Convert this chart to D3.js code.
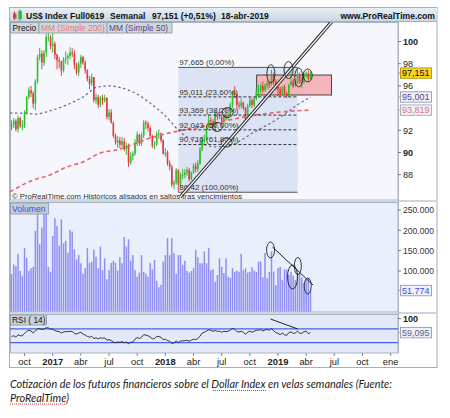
<!DOCTYPE html>
<html lang="es">
<head>
<meta charset="utf-8">
<title>US$ Index Full0619 semanal</title>
<script src="https://cdn.jsdelivr.net/npm/d3@7"></script>
<style>
  body { margin: 0; background: #fff; }
  svg { display: block; font-family: "Liberation Sans", Arial, sans-serif; }
</style>
</head>
<body>
<svg id="chart" width="450" height="418"></svg>
<script>
// weekly candles, dollar index future (jun 2019), back adjusted
const startWeek = "2016-08-26";
const firstOpen = 92.3;

const closes = [
  92.5, 92.85, 92.1, 93.1, 92.4, 92.4, 93.55, 95.0, 95.6, 95.35,
  94.4, 96.4, 98.6, 98.9, 98.1, 99.0, 100.4, 100.4, 99.6,
  99.8, 98.8, 98.3, 98.2, 97.4, 98.4, 98.5, 98.7, 99.0, 98.9,
  97.9, 97.2, 98.0, 98.6, 98.1, 97.4, 96.6, 96.2, 96.8, 94.7,
  95.0, 94.3, 94.9, 94.7, 94.9, 93.2, 93.6, 92.7, 91.5, 90.9,
  91.1, 90.7, 91.0, 90.3, 90.6, 89.1, 89.7, 89.9, 90.9, 91.6,
  90.8, 91.5, 92.7, 92.6, 92.2, 91.5, 90.6, 90.7, 91.7, 91.7,
  91.1, 89.9, 90.0, 89.0, 88.7, 87.1, 87.3, 88.4, 87.1, 88.0,
  88.0, 88.2, 88.4, 87.6, 88.2, 88.8, 88.5, 89.0, 90.3, 91.2,
  91.2, 92.3, 92.9, 92.8, 92.3, 93.5, 93.2, 93.2, 92.7, 93.3,
  93.1, 93.4, 94.3, 95.4, 95.2, 94.3, 94.2, 94.5, 94.0, 93.0,
  94.2, 94.7, 94.3, 94.8, 95.5, 95.6, 96.0, 95.6, 96.0, 96.3,
  96.1, 97.0, 96.4, 95.9, 95.7, 95.2, 95.9, 95.3, 95.1, 96.1,
  96.4, 96.0, 96.25, 97.05, 96.35, 96.35, 97.05, 97.15, 96.66, 97.151
];
const highs = [
  92.9, 93.1, 93.0, 93.3, 93.2, 92.9, 93.8, 95.1, 95.9, 96.0,
  95.5, 96.6, 98.8, 99.4, 99.2, 99.2, 100.7, 100.8, 100.6,
  101.3, 100.0, 98.9, 98.6, 98.3, 98.6, 99.1, 98.9, 99.5, 99.4,
  99.2, 98.1, 98.2, 98.8, 98.7, 98.3, 97.5, 96.9, 97.1, 96.8,
  95.3, 95.2, 95.1, 95.2, 95.2, 95.0, 93.9, 93.9, 92.8, 91.7,
  91.5, 91.4, 91.4, 91.3, 90.9, 90.8, 90.0, 90.1, 91.2, 91.9,
  91.7, 91.8, 92.9, 92.9, 92.8, 92.4, 91.6, 91.0, 91.9, 92.1,
  91.8, 91.2, 90.4, 90.2, 89.3, 88.9, 87.5, 88.6, 88.5, 88.2,
  88.5, 88.5, 88.7, 88.6, 88.3, 89.0, 89.1, 89.3, 90.5, 91.4,
  91.6, 92.5, 93.4, 93.2, 93.0, 93.8, 93.6, 94.0, 93.4, 93.5,
  94.0, 93.6, 94.5, 95.5, 95.95, 95.3, 94.6, 94.9, 94.6, 94.1,
  94.4, 95.0, 94.9, 95.0, 95.8, 96.1, 96.2, 96.4, 96.2, 96.5,
  96.4, 97.45, 97.2, 96.6, 96.3, 95.9, 96.0, 96.1, 95.5, 96.2,
  97.3, 96.6, 96.6, 97.665, 97.2, 96.8, 97.2, 97.3, 97.4, 97.3
];
const lows = [
  92.0, 92.2, 91.9, 91.8, 92.2, 92.0, 92.2, 93.4, 94.8, 95.0,
  94.0, 93.8, 96.2, 98.3, 97.5, 97.8, 98.6, 100.0, 99.3,
  99.0, 98.4, 97.5, 97.6, 96.9, 97.2, 98.0, 97.9, 98.4, 98.6,
  97.5, 97.0, 96.9, 97.6, 97.9, 97.1, 96.4, 95.7, 96.0, 94.5,
  94.4, 94.0, 94.1, 94.3, 94.5, 93.0, 92.9, 92.6, 91.3, 90.7,
  90.4, 90.4, 90.5, 90.1, 89.8, 88.7, 88.9, 89.3, 89.7, 90.6,
  90.6, 90.6, 91.3, 92.1, 91.9, 91.3, 90.4, 90.3, 90.6, 91.2,
  90.9, 89.8, 89.6, 88.8, 88.4, 86.9, 86.7, 87.1, 86.42, 86.9,
  87.6, 87.7, 87.9, 87.4, 87.5, 88.1, 88.2, 88.3, 88.9, 90.1,
  90.8, 91.0, 92.2, 92.2, 92.0, 91.9, 92.9, 93.0, 92.6, 92.6,
  92.9, 92.9, 93.3, 94.0, 94.9, 94.0, 93.9, 94.0, 93.8, 92.9,
  92.8, 94.1, 94.0, 94.1, 94.7, 95.0, 95.3, 95.4, 95.5, 95.7,
  95.8, 96.0, 96.1, 95.6, 95.1, 95.0, 95.1, 95.2, 94.9, 95.0,
  96.0, 95.8, 95.9, 96.2, 96.2, 95.8, 96.2, 96.8, 96.4, 96.6
];
// contracts per week, in thousands
const volumesK = [
  92, 116, 112, 142, 100, 88, 157, 132, 101, 107,
  110, 199, 240, 166, 207, 243, 244, 110, 98, 186,
  230, 211, 162, 227, 168, 174, 145, 201, 197, 153,
  129, 139, 119, 93, 107, 156, 120, 123, 153, 135,
  107, 160, 102, 131, 80, 102, 120, 125, 120, 101,
  134, 119, 184, 160, 178, 125, 139, 102, 86, 96,
  139, 98, 93, 86, 120, 104, 127, 76, 60, 66,
  123, 139, 181, 139, 181, 144, 93, 139, 139, 115,
  125, 100, 96, 100, 107, 152, 134, 119, 119, 148,
  119, 156, 102, 104, 74, 90, 131, 110, 95,
  131, 86, 83, 107, 98, 101, 98, 142, 102, 107,
  96, 98, 109, 101, 98, 123, 123, 84, 144, 82,
  98, 148, 98, 65, 107, 110, 78, 104, 104, 90,
  98, 88, 78, 94, 93, 84, 70, 78, 82, 51.774
];
const rsiValues = [
  48, 50, 46, 53, 50, 50, 57, 63, 66, 64, 58, 64, 70, 71, 68, 70, 73, 73, 69, 69,
  65, 63, 62, 58, 61, 62, 62, 63, 62, 57, 55, 58, 60, 55, 52, 48, 46, 48, 42, 44,
  41, 44, 43, 44, 37, 39, 36, 32, 30, 32, 31, 33, 30, 32, 27, 31, 32, 40, 45, 42,
  46, 53, 52, 50, 46, 41, 42, 48, 48, 45, 39, 40, 36, 34, 28, 29, 35, 30, 35, 35,
  36, 37, 34, 37, 40, 39, 42, 49, 58, 60, 64, 67, 66, 63, 65, 63, 63, 60, 63, 62,
  63, 67, 71, 69, 62, 61, 63, 60, 54, 61, 63, 60, 63, 66, 66, 68, 64, 67, 68, 66,
  71, 64, 59, 57, 53, 58, 53, 51, 59, 61, 57, 58, 64, 57, 57, 62, 63, 56, 59.095
];

// moving averages
const sma50Pts = [
  ["2016-08-21", 93.55], ["2016-10-10", 93.55], ["2016-11-10", 93.45], ["2016-12-28", 93.75],
  ["2017-02-21", 94.3], ["2017-04-14", 95.0], ["2017-05-30", 95.9], ["2017-07-11", 96.0],
  ["2017-08-12", 95.85], ["2017-09-30", 95.35], ["2017-11-17", 94.45], ["2018-01-05", 93.3],
  ["2018-02-22", 91.85], ["2018-04-28", 90.85], ["2018-06-16", 90.5], ["2018-07-28", 90.6],
  ["2018-10-17", 91.8], ["2019-01-12", 93.2], ["2019-03-08", 94.3], ["2019-04-19", 95.001]
];
const sma200Pts = [
  ["2016-08-21", 86.45], ["2016-11-03", 87.5], ["2016-12-28", 87.97], ["2017-02-21", 88.7],
  ["2017-04-14", 89.15], ["2017-06-08", 89.95], ["2017-08-02", 90.25], ["2017-11-17", 91.3],
  ["2018-01-31", 91.85], ["2018-04-28", 92.3], ["2018-07-02", 92.75], ["2018-10-17", 93.35],
  ["2019-01-12", 93.65], ["2019-04-19", 93.819]
];

const fibPcts = [0, 23.6, 38.2, 50, 61.8, 100];
const fibValues = [97.665, 95.011, 93.369, 92.043, 90.716, 86.42];
const fibFromWeek = 77, fibToWeek = 132; // low bar and high bar

const xTickLabels = [
  ["2016-10-07", "oct"], ["2017-01-06", "2017"], ["2017-04-07", "abr"], ["2017-07-07", "jul"],
  ["2017-10-06", "oct"], ["2018-01-05", "2018"], ["2018-04-06", "abr"], ["2018-07-06", "jul"],
  ["2018-10-05", "oct"], ["2019-01-04", "2019"], ["2019-04-05", "abr"], ["2019-07-05", "jul"],
  ["2019-10-04", "oct"], ["2020-01-03", "ene"]
];
const priceTicks = [88, 90, 92, 96, 98, 100];
const volumeTicks = [100000, 150000, 200000, 250000];
const rsiTicks = [100];
const rsiBands = [30, 70];

// hand drawn objects (date, value)
const zoneDates = ["2018-10-27", "2019-06-26"];
const zoneValues = [96.98, 95.18];
const trendPts = [["2018-02-22", 85.99], ["2019-06-26", 101.76]];
const priceRings = [["2018-12-12", 97.1], ["2019-02-07", 97.43], ["2019-03-12", 96.76], ["2019-04-10", 96.94],
  ["2018-07-25", 93.6], ["2018-06-22", 92.3], ["2018-07-22", 90.9]];
const volRings = [["2018-12-11", 151700], ["2019-03-09", 112300], ["2019-02-20", 85200], ["2019-04-10", 63000]];
const volTrend = [["2018-12-17", 159000], ["2019-04-27", 65600]];
const rsiTrend = [["2018-12-11", 98.5], ["2019-03-09", 69.6]];

// ------------------------------------------------------------------
const parse = d3.timeParse("%Y-%m-%d");
const svg = d3.select("#chart");
const left = 10, right = 398, outerRight = 437;
const pricePane = {top: 22, bottom: 200};
const volPane = {top: 202, bottom: 312};
const rsiPane = {top: 314, bottom: 353};

const x = d3.scaleTime().domain([parse("2017-01-06"), parse("2019-01-04")]).range([52.7, 278]);
const yPrice = d3.scaleLinear().domain([88, 100]).range([174.7, 41.5]);
const yVol = d3.scaleLinear().domain([0, 250000]).range([311.6, 210]);
const yRsi = d3.scaleLinear().domain([0, 100]).range([353, 318.5]);

const es = d3.formatLocale({decimal: ",", thousands: ".", grouping: [3], currency: ["", " €"]});
const fmt3 = es.format(".3f");
const fmtVol = es.format(",d");

const bars = closes.map(function(c, i) {
  return {
    date: d3.timeDay.offset(parse(startWeek), 7 * i),
    open: i ? closes[i - 1] : firstOpen,
    close: c, high: highs[i], low: lows[i],
    volume: volumesK[i] * 1000, rsi: rsiValues[i]
  };
});
const last = bars[bars.length - 1];

const defs = svg.append("defs");
const grad = defs.append("linearGradient").attr("id", "titleGrad")
  .attr("x1", 0).attr("y1", 0).attr("x2", 0).attr("y2", 1);
grad.append("stop").attr("offset", "0%").attr("stop-color", "#e8eff6");
grad.append("stop").attr("offset", "100%").attr("stop-color", "#c6d5e3");
[["clipPrice", pricePane], ["clipVol", volPane], ["clipRsi", rsiPane]].forEach(function(c) {
  defs.append("clipPath").attr("id", c[0]).append("rect")
    .attr("x", left).attr("y", c[1].top).attr("width", right - left).attr("height", c[1].bottom - c[1].top);
});

// frame + title bar
svg.append("rect").attr("x", 9.5).attr("y", 7.5).attr("width", outerRight - 9.5).attr("height", 360)
  .attr("fill", "#fff").attr("stroke", "#9fb1c3");
svg.append("rect").attr("x", 10).attr("y", 8).attr("width", outerRight - 10).attr("height", 14)
  .attr("fill", "url(#titleGrad)");
svg.append("line").attr("x1", 10).attr("x2", outerRight).attr("y1", 21.5).attr("y2", 21.5).attr("stroke", "#9fb1c3");

var icon = svg.append("g");
icon.append("line").attr("x1", 14.5).attr("x2", 14.5).attr("y1", 11.5).attr("y2", 20).attr("stroke", "#c83030");
icon.append("rect").attr("x", 13).attr("y", 13.5).attr("width", 3.5).attr("height", 5).attr("fill", "#e04040");
icon.append("line").attr("x1", 20).attr("x2", 20).attr("y1", 9.5).attr("y2", 20.5).attr("stroke", "#229922");
icon.append("rect").attr("x", 18.3).attr("y", 11).attr("width", 3.5).attr("height", 8).attr("fill", "#33bb33");

var pct = (last.close / last.open - 1) * 100;
var titleParts = [
  [26, "US$ Index Full0619", "start"],
  [110, "Semanal", "start"],
  [152, fmt3(last.close) + " (" + (pct >= 0 ? "+" : "") + es.format(".2f")(pct) + "%)", "start"],
  [221, "18-abr-2019", "start"],
  [435, "www.ProRealTime.com", "end"]
];
svg.append("g").selectAll("text").data(titleParts).enter().append("text")
  .attr("x", function(d) { return d[0]; }).attr("y", 18.6)
  .attr("text-anchor", function(d) { return d[2]; })
  .attr("font-size", 8.6).attr("font-weight", "bold").attr("fill", "#111")
  .text(function(d) { return d[1]; });

// panel backgrounds
function pane(p, fill) {
  svg.append("rect").attr("x", left + 0.5).attr("y", p.top + 0.5)
    .attr("width", right - left - 0.5).attr("height", p.bottom - p.top - 0.5)
    .attr("fill", fill).attr("stroke", "#a9b4c0");
}
pane(pricePane, "#f5f7fd");
svg.append("rect").attr("x", left).attr("y", 200).attr("width", outerRight - left).attr("height", 2).attr("fill", "#cdd5de");
pane(volPane, "#eaf0fb");
svg.append("rect").attr("x", left).attr("y", 312).attr("width", outerRight - left).attr("height", 2).attr("fill", "#cdd5de");
pane(rsiPane, "#e2e9f9");
svg.append("line").attr("x1", right + 0.5).attr("x2", right + 0.5).attr("y1", 22).attr("y2", 353).attr("stroke", "#a9b4c0");

// ---------------- price panel
var gp = svg.append("g").attr("clip-path", "url(#clipPrice)");
var fibX0 = x(bars[fibFromWeek].date), fibX1 = x(bars[fibToWeek].date);

gp.append("rect").attr("x", fibX0).attr("width", fibX1 - fibX0)
  .attr("y", yPrice(fibValues[0])).attr("height", yPrice(fibValues[5]) - yPrice(fibValues[0]))
  .attr("fill", "#dbe3f5");

gp.append("rect")
  .attr("x", x(parse(zoneDates[0]))).attr("width", x(parse(zoneDates[1])) - x(parse(zoneDates[0])))
  .attr("y", yPrice(zoneValues[0])).attr("height", yPrice(zoneValues[1]) - yPrice(zoneValues[0]))
  .attr("fill", "#f5b5bb").attr("stroke", "#333").attr("stroke-width", 0.9);

var candle = gp.append("g").selectAll("g").data(bars).enter().append("g")
  .attr("stroke", function(d) { return d.close >= d.open ? "#23b023" : "#d93434"; })
  .attr("fill", function(d) { return d.close >= d.open ? "#2cc22c" : "#e03c3c"; });
candle.append("line")
  .attr("x1", function(d) { return x(d.date); }).attr("x2", function(d) { return x(d.date); })
  .attr("y1", function(d) { return yPrice(d.high); }).attr("y2", function(d) { return yPrice(d.low); })
  .attr("stroke-width", 0.9);
candle.append("rect")
  .attr("x", function(d) { return x(d.date) - 0.8; }).attr("width", 1.6)
  .attr("y", function(d) { return yPrice(Math.max(d.open, d.close)); })
  .attr("height", function(d) { return Math.max(1, Math.abs(yPrice(d.open) - yPrice(d.close))); })
  .attr("stroke", "none");

var maLine = d3.line().curve(d3.curveMonotoneX)
  .x(function(d) { return x(parse(d[0])); }).y(function(d) { return yPrice(d[1]); });
gp.append("path").datum(sma200Pts).attr("d", maLine).attr("fill", "none")
  .attr("stroke", "#e56468").attr("stroke-width", 1.6).attr("stroke-dasharray", "4,3");
gp.append("path").datum(sma50Pts).attr("d", maLine).attr("fill", "none")
  .attr("stroke", "#7a6590").attr("stroke-width", 1.2).attr("stroke-dasharray", "2.5,2.5");

// fibonacci
fibValues.forEach(function(v, i) {
  var solid = i === 0 || i === fibValues.length - 1;
  gp.append("line").attr("x1", fibX0).attr("x2", fibX1)
    .attr("y1", yPrice(v)).attr("y2", yPrice(v))
    .attr("stroke", solid ? "#555" : "#222").attr("stroke-width", solid ? 1 : 0.9)
    .attr("stroke-dasharray", solid ? null : "3,2");
  gp.append("text").attr("x", fibX0 + 1).attr("y", yPrice(v) - 2.2)
    .attr("font-size", 8).attr("fill", "#333")
    .text(String(v).replace(".", ",") + " (" + es.format(".2f")(fibPcts[i]) + "%)");
});

// trend line (double)
var tx0 = x(parse(trendPts[0][0])), ty0 = yPrice(trendPts[0][1]);
var tx1 = x(parse(trendPts[1][0])), ty1 = yPrice(trendPts[1][1]);
gp.append("line").attr("x1", tx0).attr("y1", ty0).attr("x2", tx1).attr("y2", ty1)
  .attr("stroke", "#222").attr("stroke-width", 3.4);
gp.append("line").attr("x1", tx0).attr("y1", ty0).attr("x2", tx1).attr("y2", ty1)
  .attr("stroke", "#f5f7fd").attr("stroke-width", 1.3);

var ringSize = [[4, 9], [4.5, 8.5], [4, 9.5], [4.5, 6.5], [5.5, 5], [5, 4.5], [5.5, 4.5]];
gp.append("g").selectAll("ellipse").data(priceRings).enter().append("ellipse")
  .attr("cx", function(d) { return x(parse(d[0])); }).attr("cy", function(d) { return yPrice(d[1]); })
  .attr("rx", function(d, i) { return ringSize[i][0]; }).attr("ry", function(d, i) { return ringSize[i][1]; })
  .attr("fill", "none").attr("stroke", "#222").attr("stroke-width", 0.9);

svg.append("text").attr("x", 12).attr("y", 198.8).attr("font-size", 8).attr("fill", "#333")
  .attr("textLength", 230).attr("lengthAdjust", "spacingAndGlyphs")
  .text("© ProRealTime.com  Históricos alisados en saltos tras vencimientos");

// legend tabs
var tabs = [["Precio", 10.5, 39, "#111"], ["MM (Simple 200)", 39, 107, "#e87476"], ["MM (Simple 50)", 107, 172, "#5a4678"]];
tabs.forEach(function(t) {
  svg.append("rect").attr("x", t[1]).attr("y", 22.5).attr("width", t[2] - t[1]).attr("height", 10.5)
    .attr("fill", "#cfd7df").attr("stroke", "#97a4b0");
  svg.append("text").attr("x", t[1] + 2).attr("y", 31).attr("font-size", 8.4).attr("fill", t[3]).text(t[0]);
});

// price axis
var pa = svg.append("g");
pa.selectAll("line").data(priceTicks).enter().append("line")
  .attr("x1", right).attr("x2", right + 3).attr("y1", function(d) { return yPrice(d); }).attr("y2", function(d) { return yPrice(d); })
  .attr("stroke", "#777");
pa.selectAll("text").data(priceTicks).enter().append("text")
  .attr("x", right + 5).attr("y", function(d) { return yPrice(d) + 3.3; })
  .attr("font-size", 9).attr("fill", "#222")
  .attr("font-weight", function(d) { return d % 10 === 0 ? "bold" : null; })
  .text(function(d) { return d; });

function valueBox(yc, label, fill, stroke, color) {
  svg.append("line").attr("x1", right).attr("x2", right + 3).attr("y1", yc).attr("y2", yc).attr("stroke", stroke);
  svg.append("rect").attr("x", right + 2.5).attr("y", yc - 5.2).attr("width", 31).attr("height", 10.4)
    .attr("fill", fill).attr("stroke", stroke);
  svg.append("text").attr("x", right + 4).attr("y", yc + 3.3).attr("font-size", 9).attr("fill", color).text(label);
}
valueBox(yPrice(sma50Pts[sma50Pts.length - 1][1]), fmt3(sma50Pts[sma50Pts.length - 1][1]), "#eff2fa", "#9aa4b8", "#5a3f7e");
valueBox(yPrice(sma200Pts[sma200Pts.length - 1][1]), fmt3(sma200Pts[sma200Pts.length - 1][1]), "#eff2fa", "#a8b0c2", "#e2707c");
valueBox(yPrice(last.close), fmt3(last.close), "#f7d41e", "#b59d1c", "#111");

// ---------------- volume panel
svg.append("g").attr("clip-path", "url(#clipVol)").selectAll("rect").data(bars).enter().append("rect")
  .attr("x", function(d) { return x(d.date) - 0.75; }).attr("width", 1.5)
  .attr("y", function(d) { return yVol(d.volume); })
  .attr("height", function(d) { return yVol(0) - yVol(d.volume); })
  .attr("fill", "#8e8ef3");

var gv = svg.append("g").attr("clip-path", "url(#clipVol)");
gv.append("line")
  .attr("x1", x(parse(volTrend[0][0]))).attr("y1", yVol(volTrend[0][1]))
  .attr("x2", x(parse(volTrend[1][0]))).attr("y2", yVol(volTrend[1][1]))
  .attr("stroke", "#222").attr("stroke-width", 1);
var volRingSize = [[4, 8], [3.5, 8.5], [5, 12], [3.5, 8]];
gv.selectAll("ellipse").data(volRings).enter().append("ellipse")
  .attr("cx", function(d) { return x(parse(d[0])); }).attr("cy", function(d) { return yVol(d[1]); })
  .attr("rx", function(d, i) { return volRingSize[i][0]; }).attr("ry", function(d, i) { return volRingSize[i][1]; })
  .attr("fill", "none").attr("stroke", "#222").attr("stroke-width", 0.9);

svg.append("rect").attr("x", 10.5).attr("y", 203).attr("width", 38).attr("height", 11)
  .attr("fill", "#c4ceda").attr("stroke", "#93a1b0");
svg.append("text").attr("x", 12).attr("y", 211.8).attr("font-size", 8.6).attr("fill", "#3152d6").text("Volumen");

var va = svg.append("g");
va.selectAll("line").data(volumeTicks).enter().append("line")
  .attr("x1", right).attr("x2", right + 3).attr("y1", function(d) { return yVol(d); }).attr("y2", function(d) { return yVol(d); })
  .attr("stroke", "#777");
va.selectAll("text").data(volumeTicks).enter().append("text")
  .attr("x", right + 5).attr("y", function(d) { return yVol(d) + 3.2; })
  .attr("font-size", 8.6).attr("fill", "#333").text(function(d) { return fmtVol(d); });
valueBox(yVol(last.volume), fmtVol(last.volume), "#eef1fb", "#9aa4b8", "#4848e6");

// ---------------- RSI panel
var gr = svg.append("g").attr("clip-path", "url(#clipRsi)");
rsiBands.forEach(function(b) {
  gr.append("line").attr("x1", left).attr("x2", right).attr("y1", yRsi(b)).attr("y2", yRsi(b))
    .attr("stroke", "#4d5fe0").attr("stroke-width", 1.3);
});
gr.append("path").datum(bars)
  .attr("d", d3.line().x(function(d) { return x(d.date); }).y(function(d) { return yRsi(d.rsi); }))
  .attr("fill", "none").attr("stroke", "#222").attr("stroke-width", 0.9);
gr.append("line")
  .attr("x1", x(parse(rsiTrend[0][0]))).attr("y1", yRsi(rsiTrend[0][1]))
  .attr("x2", x(parse(rsiTrend[1][0]))).attr("y2", yRsi(rsiTrend[1][1]))
  .attr("stroke", "#222").attr("stroke-width", 1);

svg.append("rect").attr("x", 10.5).attr("y", 315).attr("width", 36).attr("height", 10)
  .attr("fill", "#c9d2dc").attr("stroke", "#93a1b0");
svg.append("text").attr("x", 12).attr("y", 323.3).attr("font-size", 8.4).attr("fill", "#111").text("RSI ( 14)");

rsiTicks.forEach(function(t) {
  svg.append("line").attr("x1", right).attr("x2", right + 3).attr("y1", yRsi(t)).attr("y2", yRsi(t)).attr("stroke", "#777");
  svg.append("text").attr("x", right + 5).attr("y", yRsi(t) + 3.3).attr("font-size", 9)
    .attr("font-weight", "bold").attr("fill", "#222").text(t);
});
valueBox(yRsi(last.rsi), fmt3(last.rsi), "#eef1fb", "#9aa4b8", "#56667c");

// ---------------- time axis
var xa = svg.append("g");
xa.selectAll("line").data(xTickLabels).enter().append("line")
  .attr("x1", function(d) { return x(parse(d[0])); }).attr("x2", function(d) { return x(parse(d[0])); })
  .attr("y1", 353).attr("y2", 356).attr("stroke", "#888");
xa.selectAll("text").data(xTickLabels).enter().append("text")
  .attr("x", function(d) { return x(parse(d[0])); }).attr("y", 364.8)
  .attr("text-anchor", "middle").attr("font-size", 9.4).attr("fill", "#222")
  .attr("font-weight", function(d) { return /^\d+$/.test(d[1]) ? "bold" : null; })
  .text(function(d) { return d[1]; });

// ---------------- caption
var cap = svg.append("g").attr("font-family", "Lato, 'Open Sans', sans-serif").attr("font-style", "italic")
  .attr("font-size", 10.5).attr("fill", "#1a1a1a");
cap.append("text").attr("x", 10).attr("y", 387.5).attr("textLength", 382).attr("lengthAdjust", "spacingAndGlyphs")
  .text("Cotización de los futuros financieros sobre el Dollar Index en velas semanales (Fuente:");
cap.append("text").attr("x", 10).attr("y", 401.5).attr("textLength", 59).attr("lengthAdjust", "spacingAndGlyphs")
  .text("ProRealTime)");
[[213, 266, 390.5], [10, 68, 404]].forEach(function(u) {
  svg.append("line").attr("x1", u[0]).attr("x2", u[1]).attr("y1", u[2]).attr("y2", u[2])
    .attr("stroke", "#e03030").attr("stroke-width", 1).attr("stroke-dasharray", "1,1");
});
</script>
</body>
</html>
